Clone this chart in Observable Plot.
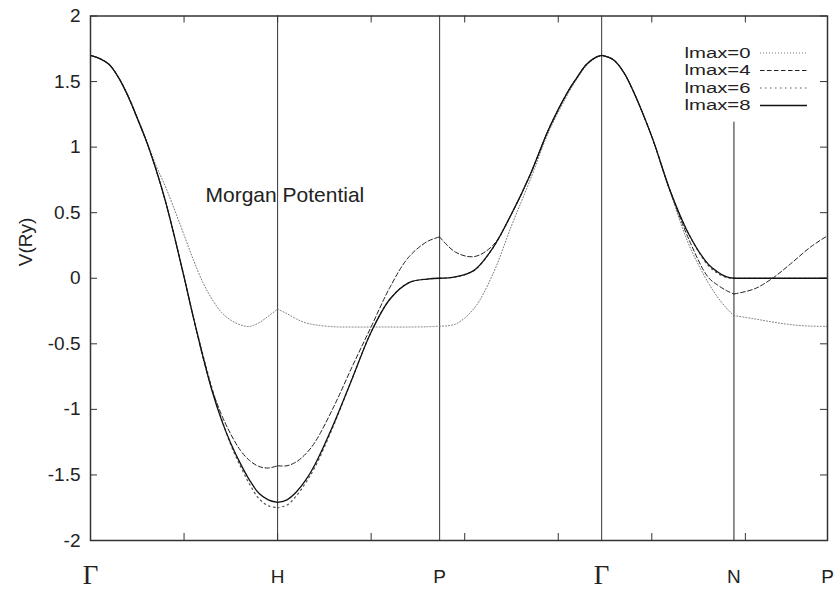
<!DOCTYPE html>
<html><head><meta charset="utf-8">
<script src="https://cdn.jsdelivr.net/npm/d3@7"></script>
<script src="https://cdn.jsdelivr.net/npm/@observablehq/plot@0.6"></script>
<style>body{margin:0;background:#fff;} svg{display:block;}</style>
</head><body><div id="chart"></div>
<script>
// path coordinate (units of 2π/a) along Γ-H-P-Γ-N-P
const kPath = [0,0.05,0.1,0.15,0.2,0.25,0.3,0.35,0.4,0.45,0.5,0.55,0.6,0.65,0.7,0.75,0.8,0.85,0.9,0.95,1.0,
  1.05,1.1,1.15,1.2,1.3,1.4,1.5,1.6,1.7,1.8,1.866,
  1.95,2.05,2.15,2.25,2.35,2.45,2.55,2.6,2.65,2.7,2.732,
  2.77,2.8,2.85,2.9,3.0,3.1,3.2,3.3,3.35,3.4,3.439,
  3.55,3.65,3.75,3.85,3.939];
const vLmax0 = [1.70,1.675,1.63,1.53,1.40,1.23,1.05,0.86,0.70,0.52,0.33,0.14,-0.03,-0.16,-0.26,-0.32,-0.355,-0.368,-0.34,-0.29,-0.235,
  -0.27,-0.31,-0.34,-0.355,-0.37,-0.372,-0.372,-0.372,-0.372,-0.37,-0.365,
  -0.35,-0.23,0.03,0.40,0.75,1.12,1.40,1.52,1.62,1.68,1.70,
  1.685,1.66,1.57,1.43,1.08,0.65,0.25,-0.03,-0.14,-0.23,-0.285,
  -0.31,-0.335,-0.355,-0.365,-0.367];
const vLmax4 = [1.70,1.675,1.63,1.53,1.39,1.22,1.04,0.83,0.59,0.31,0.01,-0.30,-0.60,-0.85,-1.04,-1.19,-1.31,-1.39,-1.435,-1.447,-1.43,
  -1.43,-1.40,-1.34,-1.25,-0.98,-0.67,-0.37,-0.07,0.16,0.28,0.315,
  0.20,0.165,0.25,0.49,0.79,1.14,1.42,1.53,1.63,1.685,1.70,
  1.685,1.66,1.57,1.43,1.08,0.66,0.29,0.01,-0.05,-0.095,-0.12,
  -0.08,0.005,0.12,0.24,0.324];
const vLmax6 = [1.70,1.675,1.63,1.53,1.39,1.22,1.04,0.83,0.59,0.31,0.01,-0.30,-0.58,-0.84,-1.07,-1.27,-1.43,-1.57,-1.68,-1.735,-1.75,
  -1.73,-1.66,-1.56,-1.44,-1.12,-0.76,-0.41,-0.16,-0.035,-0.006,0,
  0.01,0.06,0.23,0.49,0.79,1.14,1.42,1.53,1.63,1.685,1.70,
  1.685,1.66,1.57,1.43,1.08,0.66,0.33,0.10,0.04,0.005,0,
  0,0,0,0,0];
const vLmax8 = [1.70,1.675,1.63,1.53,1.39,1.22,1.04,0.83,0.59,0.31,0.01,-0.30,-0.59,-0.86,-1.08,-1.26,-1.41,-1.54,-1.64,-1.69,-1.71,
  -1.69,-1.63,-1.54,-1.42,-1.11,-0.76,-0.41,-0.16,-0.035,-0.006,0,
  0.01,0.06,0.23,0.49,0.79,1.14,1.42,1.53,1.63,1.685,1.70,
  1.685,1.66,1.57,1.43,1.08,0.66,0.33,0.11,0.05,0.01,0,
  0,0,0,0,0];
const seriesNames = ["lmax=0","lmax=4","lmax=6","lmax=8"];
const symPos = [0, 1, 1.866, 2.732, 3.439, 3.939];
const symLabels = ["Γ","H","P","Γ","N","P"];
const yTicks = [-2,-1.5,-1,-0.5,0,0.5,1,1.5,2];
const xTicks = [0.5,1,1.5,2,2.5,3,3.5];
const fullLines = [1, 1.866, 2.732];
const nLine = [{k: 3.439, top: 1.19}];
const annotation = "Morgan Potential";
const yLabel = "V(Ry)";

const seriesValues = [vLmax0, vLmax4, vLmax6, vLmax8];
const styles = [
  {stroke: "#777", strokeWidth: 1, strokeDasharray: "1,2"},
  {stroke: "#222", strokeWidth: 1, strokeDasharray: "4.5,2.5"},
  {stroke: "#555", strokeWidth: 1.2, strokeDasharray: "1.5,3.5"},
  {stroke: "#111", strokeWidth: 1.3, strokeDasharray: null}
];

const rows = [];
seriesNames.forEach((name, s) => {
  for (let j = 0; j < symPos.length - 1; j++) {
    kPath.forEach((k, i) => {
      if (k >= symPos[j] && k <= symPos[j + 1]) rows.push({k, v: seriesValues[s][i], series: name, seg: j});
    });
  }
});

const W = 835, H = 592, mL = 90, mR = 8, mT = 15.5, mB = 52;
const plotW = W - mL - mR, plotH = H - mT - mB, tick = 7;
const sans = "'Liberation Sans', Arial, Helvetica, sans-serif";

// key: labels plus line samples
const legend = () => {
  const g = d3.create("svg:g");
  seriesNames.forEach((name, i) => {
    const y = 53 + i * 17.5;
    g.append("text").attr("x", 750.5).attr("y", y + 4.5).attr("text-anchor", "end")
      .attr("font-family", sans).attr("font-size", 15.5)
      .attr("textLength", 66).attr("lengthAdjust", "spacingAndGlyphs")
      .attr("fill", "#222").text(name);
    const st = styles[i];
    const ln = g.append("line").attr("x1", 760).attr("x2", 807).attr("y1", y).attr("y2", y)
      .attr("stroke", st.stroke).attr("stroke-width", st.strokeWidth);
    if (st.strokeDasharray) ln.attr("stroke-dasharray", st.strokeDasharray);
  });
  return g.node();
};

const symData = symPos.map((k, i) => ({k, label: symLabels[i]}));

const chart = Plot.plot({
  width: W, height: H,
  marginLeft: mL, marginRight: mR, marginTop: mT, marginBottom: mB,
  style: {fontFamily: sans, background: "white", color: "#222"},
  x: {domain: [0, 3.939], axis: null},
  y: {domain: [-2, 2], axis: null},
  marks: [
    Plot.ruleX(fullLines, {x: d => d, stroke: "#333", strokeWidth: 1}),
    Plot.ruleX(nLine, {x: "k", y1: -2, y2: "top", stroke: "#222", strokeWidth: 1}),
    Plot.tickX(xTicks, {x: d => d, insetTop: plotH - tick, stroke: "#333"}),
    Plot.tickX(xTicks, {x: d => d, insetBottom: plotH - tick, stroke: "#333"}),
    Plot.tickY(yTicks, {y: d => d, insetRight: plotW - tick, stroke: "#333"}),
    Plot.tickY(yTicks, {y: d => d, insetLeft: plotW - tick, stroke: "#333"}),
    ...seriesNames.map((name, s) => Plot.line(rows.filter(r => r.series === name), {
      x: "k", y: "v", z: "seg", curve: "catmull-rom", ...styles[s]
    })),
    Plot.frame({stroke: "#333", strokeWidth: 1.5}),
    Plot.axisY({ticks: yTicks, tickSize: 0, tickPadding: 10, tickFormat: d => String(d), fontSize: 19, label: null}),
    Plot.text(symData.filter(d => d.label === "Γ"), {x: "k", text: "label", frameAnchor: "bottom", dy: 43, fontFamily: "'Liberation Serif', 'Times New Roman', serif", fontSize: 27, fill: "#222"}),
    Plot.text(symData.filter(d => d.label !== "Γ"), {x: "k", text: "label", frameAnchor: "bottom", dy: 42, fontSize: 19, fill: "#222"}),
    Plot.text([yLabel], {frameAnchor: "left", dx: -65, dy: -12, rotate: -90, fontSize: 19, fill: "#222"}),
    Plot.text([annotation], {frameAnchor: "top-left", dx: 115, dy: 171, textAnchor: "start", fontSize: 21, fill: "#222"}),
    legend
  ]
});
document.getElementById("chart").appendChild(chart);
</script>
</body></html>
